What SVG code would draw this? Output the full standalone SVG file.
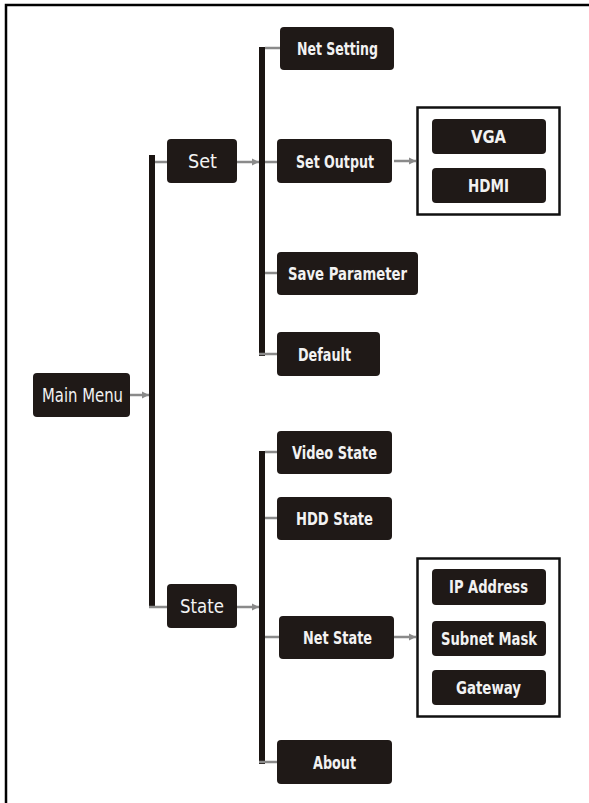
<svg xmlns="http://www.w3.org/2000/svg" width="589" height="803" viewBox="0 0 589 803">
<style>
.box{fill:#1f1917}
.t{fill:#f2f2f2;font-family:"Liberation Sans Narrow","DejaVu Sans Condensed","Liberation Sans",sans-serif;font-weight:bold;font-size:17px;text-anchor:middle}
.tr{fill:#f2f2f2;font-family:"Liberation Sans Narrow","DejaVu Sans Condensed","Liberation Sans",sans-serif;font-size:19px;text-anchor:middle}
.bar{fill:#1a1412}
.c{stroke:#8a8a8a;stroke-width:2.5;fill:none}
.a{stroke:#8a8a8a;stroke-width:2.5;fill:none;marker-end:url(#ah)}
.frame{fill:none;stroke:#000;stroke-width:2.5}
</style>
<defs>
<marker id="ah" viewBox="0 0 10 10" refX="10" refY="5" markerWidth="3" markerHeight="3" orient="auto" markerUnits="strokeWidth">
<path d="M0,0 L10,5 L0,10 z" fill="#8a8a8a"/>
</marker>
</defs>
<rect width="589" height="803" fill="#fff"/>
<rect class="frame" x="6" y="5" width="700" height="900"/>
<g id="connectors">
<rect class="bar" x="149" y="155" width="6" height="453"/>
<rect class="bar" x="259" y="47" width="6" height="309"/>
<rect class="bar" x="259" y="451" width="6" height="313"/>
<line class="a" x1="130" y1="395" x2="149" y2="395"/>
<line class="c" x1="155" y1="162" x2="167" y2="162"/>
<line class="c" x1="149" y1="607" x2="167" y2="607"/>
<line class="a" x1="237" y1="162" x2="259" y2="162"/>
<line class="a" x1="237" y1="607" x2="259" y2="607"/>
<line class="c" x1="265" y1="48" x2="280" y2="48"/>
<line class="c" x1="265" y1="162" x2="277" y2="162"/>
<line class="c" x1="265" y1="273" x2="277" y2="273"/>
<line class="c" x1="259" y1="354" x2="277" y2="354"/>
<line class="c" x1="265" y1="452" x2="277" y2="452"/>
<line class="c" x1="265" y1="518" x2="277" y2="518"/>
<line class="c" x1="265" y1="637" x2="279" y2="637"/>
<line class="c" x1="259" y1="762" x2="277" y2="762"/>
<line class="a" x1="394" y1="161" x2="416" y2="161"/>
<line class="a" x1="394" y1="637" x2="416" y2="637"/>
</g>
<g id="main-menu"><rect class="box" x="33" y="373" width="97" height="44" rx="4"/><text class="tr" x="82.5" y="402" textLength="81" lengthAdjust="spacingAndGlyphs">Main Menu</text></g>
<g id="set"><rect class="box" x="167" y="139" width="70" height="44" rx="4"/><text class="tr" x="202.5" y="168" textLength="29" lengthAdjust="spacingAndGlyphs">Set</text></g>
<g id="state"><rect class="box" x="167" y="584" width="70" height="44" rx="4"/><text class="tr" x="202" y="613" textLength="44" lengthAdjust="spacingAndGlyphs">State</text></g>
<g id="net-setting"><rect class="box" x="280" y="27" width="114" height="43" rx="4"/><text class="t" x="337.5" y="55" textLength="81" lengthAdjust="spacingAndGlyphs">Net Setting</text></g>
<g id="set-output"><rect class="box" x="277" y="139" width="115" height="44" rx="4"/><text class="t" x="335" y="167.5" textLength="78" lengthAdjust="spacingAndGlyphs">Set Output</text></g>
<g id="save-parameter"><rect class="box" x="277" y="252" width="141" height="43" rx="4"/><text class="t" x="347.5" y="280" textLength="119" lengthAdjust="spacingAndGlyphs">Save Parameter</text></g>
<g id="default"><rect class="box" x="277" y="332" width="103" height="44" rx="4"/><text class="t" x="324.5" y="360.5" textLength="53" lengthAdjust="spacingAndGlyphs">Default</text></g>
<g id="output-group"><rect x="417.5" y="107.5" width="142" height="107" fill="none" stroke="#111" stroke-width="2.5"/></g>
<g id="vga"><rect class="box" x="432" y="119" width="114" height="35" rx="4"/><text class="t" x="488.5" y="143" textLength="35" lengthAdjust="spacingAndGlyphs">VGA</text></g>
<g id="hdmi"><rect class="box" x="432" y="168" width="114" height="35" rx="4"/><text class="t" x="488.5" y="192" textLength="41" lengthAdjust="spacingAndGlyphs">HDMI</text></g>
<g id="video-state"><rect class="box" x="277" y="431" width="115" height="43" rx="4"/><text class="t" x="334.5" y="459" textLength="85" lengthAdjust="spacingAndGlyphs">Video State</text></g>
<g id="hdd-state"><rect class="box" x="277" y="497" width="115" height="43" rx="4"/><text class="t" x="334.5" y="525" textLength="77" lengthAdjust="spacingAndGlyphs">HDD State</text></g>
<g id="net-state"><rect class="box" x="279" y="616" width="115" height="43" rx="4"/><text class="t" x="337.5" y="644" textLength="69" lengthAdjust="spacingAndGlyphs">Net State</text></g>
<g id="about"><rect class="box" x="277" y="740" width="115" height="44" rx="4"/><text class="t" x="334.5" y="768.5" textLength="43" lengthAdjust="spacingAndGlyphs">About</text></g>
<g id="net-group"><rect x="417.5" y="558.5" width="142" height="158" fill="none" stroke="#111" stroke-width="2.5"/></g>
<g id="ip-address"><rect class="box" x="432" y="569" width="114" height="36" rx="4"/><text class="t" x="488.5" y="593" textLength="79" lengthAdjust="spacingAndGlyphs">IP Address</text></g>
<g id="subnet-mask"><rect class="box" x="432" y="621" width="114" height="35" rx="4"/><text class="t" x="489" y="645" textLength="96" lengthAdjust="spacingAndGlyphs">Subnet Mask</text></g>
<g id="gateway"><rect class="box" x="432" y="670" width="114" height="35" rx="4"/><text class="t" x="488.5" y="694" textLength="65" lengthAdjust="spacingAndGlyphs">Gateway</text></g>
</svg>
